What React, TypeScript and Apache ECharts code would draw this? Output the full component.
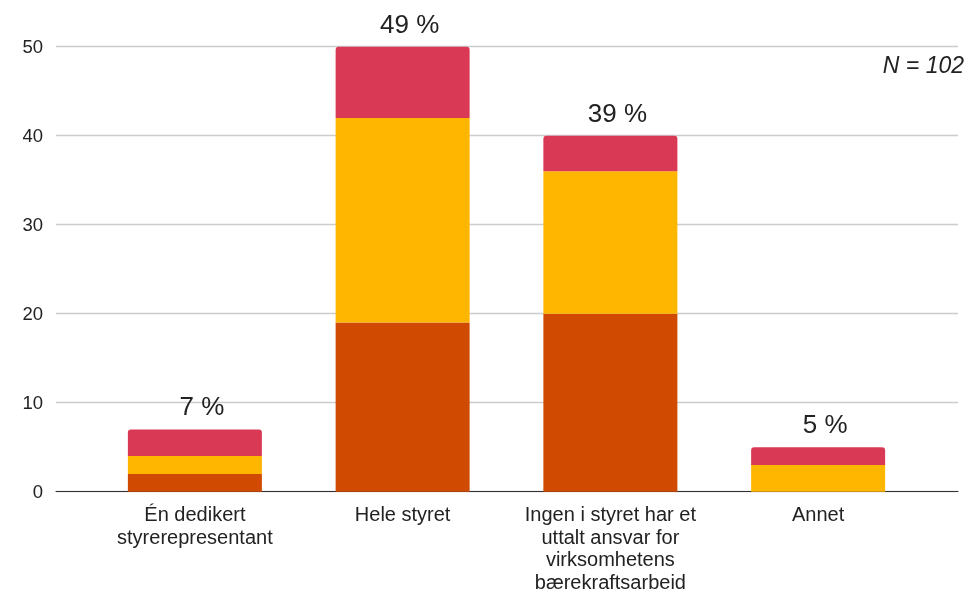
import React, { useEffect, useRef } from "react";
import * as echarts from "echarts";

const categories = [
  "Én dedikert\nstyrerepresentant",
  "Hele styret",
  "Ingen i styret har et\nuttalt ansvar for\nvirksomhetens\nbærekraftsarbeid",
  "Annet",
];
const seriesA = [2, 19, 20, 0];
const seriesB = [2, 23, 16, 3];
const seriesC = [3, 8, 4, 2];
const percentLabels = ["7 %", "49 %", "39 %", "5 %"];
const yTicks = { min: 0, max: 50, interval: 10 };
const noteText = "N = 102";

const FONT = '"Liberation Sans", Arial, sans-serif';

export default function App() {
  const ref = useRef<HTMLDivElement>(null);
  useEffect(() => {
    if (!ref.current) return;
    const chart = echarts.init(ref.current, undefined, { renderer: "svg" });
    chart.setOption({
      animation: false,
      textStyle: { fontFamily: FONT },
      grid: [
        { left: 56, right: 9, top: 46.7, bottom: 101.3, containLabel: false, outerBoundsMode: "none" },
        { left: 91, right: 45, top: 46.7, bottom: 101.3, containLabel: false, outerBoundsMode: "none" },
      ],
      xAxis: [
        {
          gridIndex: 0,
          type: "value",
          min: 0,
          max: 1,
          axisLine: { show: true, lineStyle: { color: "#333", width: 1.2 } },
          axisTick: { show: false },
          axisLabel: { show: false },
          splitLine: { show: false },
        },
        {
          gridIndex: 1,
          type: "category",
          data: categories,
          axisLine: { show: false },
          axisTick: { show: false },
          axisLabel: {
            interval: 0,
            hideOverlap: false,
            fontFamily: FONT,
            fontSize: 20,
            lineHeight: 22.5,
            color: "#222",
            margin: 11.5,
            align: "center",
          },
        },
      ],
      yAxis: [
        {
          gridIndex: 0,
          type: "value",
          min: yTicks.min,
          max: yTicks.max,
          interval: yTicks.interval,
          axisLine: { show: false },
          axisTick: { show: false },
          axisLabel: { fontFamily: FONT, fontSize: 18.5, color: "#222", margin: 13 },
          splitLine: { show: true, lineStyle: { color: "#cccccc", width: 1.3 } },
        },
        {
          gridIndex: 1,
          type: "value",
          min: yTicks.min,
          max: yTicks.max,
          interval: yTicks.interval,
          show: false,
          splitLine: { show: false },
        },
      ],
      series: [
        {
          name: "A",
          type: "bar",
          stack: "total",
          xAxisIndex: 1,
          yAxisIndex: 1,
          data: seriesA,
          barWidth: 134,
          itemStyle: { color: "#D04A02" },
        },
        {
          name: "B",
          type: "bar",
          stack: "total",
          xAxisIndex: 1,
          yAxisIndex: 1,
          data: seriesB,
          barWidth: 134,
          itemStyle: { color: "#FFB600" },
        },
        {
          name: "C",
          type: "bar",
          stack: "total",
          xAxisIndex: 1,
          yAxisIndex: 1,
          data: seriesC,
          barWidth: 134,
          itemStyle: { color: "#D93954", borderRadius: [3, 3, 0, 0] },
          label: {
            show: true,
            position: "top",
            distance: 10,
            offset: [7, 0],
            fontFamily: FONT,
            fontSize: 26,
            color: "#222",
            formatter: (p: any) => percentLabels[p.dataIndex],
          },
        },
      ],
      graphic: [
        {
          type: "text",
          right: 3,
          top: 53,
          style: {
            text: noteText,
            fontFamily: FONT,
            fontSize: 23,
            fontStyle: "italic",
            fill: "#222",
          },
        },
      ],
    });
    return () => chart.dispose();
  }, []);
  return <div ref={ref} style={{ width: 967, height: 593, position: "fixed", left: 0, top: 0 }} />;
}
